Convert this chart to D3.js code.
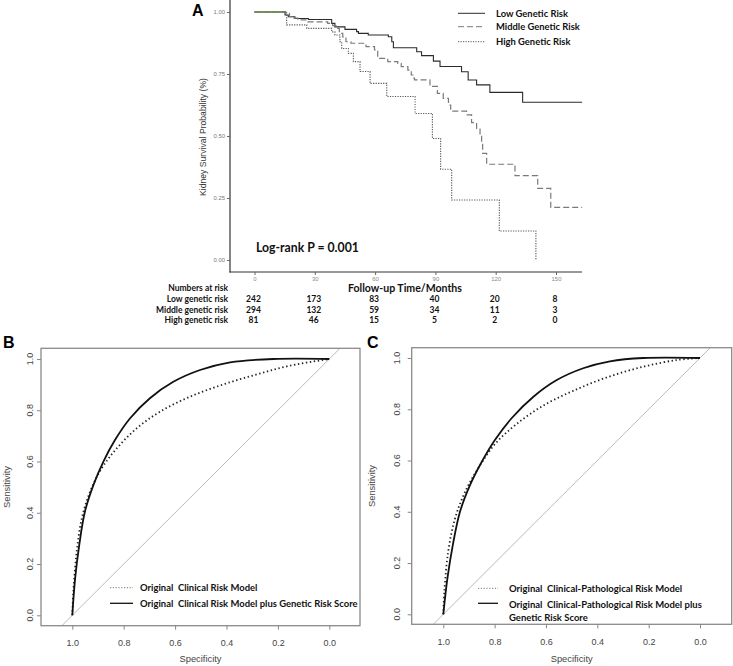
<!DOCTYPE html>
<html><head><meta charset="utf-8">
<script src="https://cdn.jsdelivr.net/npm/d3@7"></script>
<style>body{margin:0;background:#fff}svg{display:block}</style>
</head><body>
<script>
// ---------- Panel A data (Kaplan-Meier) ----------
const lowRisk = [[0,1],[15.2,0.988],[16.8,0.981],[20.1,0.974],[26.8,0.97],[38.4,0.954],[40,0.94],[45,0.93],[50.8,0.921],[51.7,0.914],[56.6,0.907],[66.6,0.9],[68.3,0.88],[69.1,0.856],[80.7,0.84],[83.1,0.824],[89,0.802],[92.3,0.78],[103,0.759],[106.3,0.726],[110.5,0.706],[117.1,0.676],[133.4,0.636],[163,0.636]];
const middleRisk = [[0,1],[15.6,0.995],[17.4,0.981],[19,0.975],[21.5,0.968],[26.5,0.96],[36.4,0.954],[38.9,0.945],[40.5,0.934],[42.2,0.914],[43.9,0.9],[45.5,0.88],[48,0.874],[55.5,0.86],[59.7,0.847],[61.3,0.813],[66.3,0.8],[71.3,0.793],[73,0.78],[76.3,0.766],[78,0.746],[78.8,0.733],[79.6,0.726],[87.3,0.70],[91,0.672],[93.9,0.652],[96.5,0.625],[97.6,0.60],[105.5,0.585],[108,0.554],[110.5,0.531],[112.2,0.504],[113,0.47],[113.5,0.43],[115.5,0.386],[129.6,0.34],[140.9,0.289],[147.4,0.2125],[163,0.2125]];
const highRisk = [[0,1],[16,0.948],[26,0.934],[38.4,0.92],[40,0.907],[42.5,0.88],[43.4,0.853],[46.7,0.833],[49.2,0.8],[52.5,0.76],[57.5,0.712],[65.8,0.659],[79.9,0.591],[88.5,0.49],[92.6,0.366],[98.1,0.242],[121.8,0.117],[140,0]];
const kmSeriesNames = ["Low Genetic Risk","Middle Genetic Risk","High Genetic Risk"];
const kmXTicks = [0,30,60,90,120,150];
const kmYTicks = [0,0.25,0.5,0.75,1];
const riskRowLabels = ["Low genetic risk","Middle genetic risk","High genetic risk"];
const lowAtRisk = [242,173,83,40,20,8];
const middleAtRisk = [294,132,59,34,11,3];
const highAtRisk = [81,46,15,5,2,0];

// ---------- Panel B data (ROC: [specificity, sensitivity]) ----------
const rocBClinical = [[1,0],[0.996,0.092],[0.983,0.248],[0.963,0.378],[0.931,0.482],[0.886,0.573],[0.827,0.651],[0.749,0.73],[0.659,0.794],[0.542,0.853],[0.412,0.901],[0.282,0.94],[0.153,0.974],[0,1]];
const rocBGenetic = [[1,0],[0.989,0.144],[0.973,0.274],[0.951,0.404],[0.918,0.508],[0.879,0.6],[0.834,0.684],[0.775,0.769],[0.698,0.847],[0.607,0.911],[0.503,0.957],[0.386,0.987],[0.218,1],[0,1]];
const legendB = ["Original  Clinical Risk Model","Original  Clinical Risk Model plus Genetic Risk Score"];

// ---------- Panel C data ----------
const rocCClinPath = [[1,0],[0.996,0.088],[0.981,0.244],[0.954,0.375],[0.915,0.478],[0.864,0.57],[0.799,0.664],[0.715,0.742],[0.611,0.814],[0.494,0.872],[0.364,0.924],[0.221,0.966],[0.091,0.992],[0,1]];
const rocCGenetic = [[1,0],[0.984,0.14],[0.963,0.27],[0.935,0.4],[0.896,0.504],[0.85,0.595],[0.799,0.68],[0.734,0.765],[0.649,0.849],[0.558,0.914],[0.455,0.96],[0.351,0.987],[0.221,1],[0,1]];
const legendC = ["Original  Clinical-Pathological Risk Model","Original  Clinical-Pathological Risk Model plus","Genetic Risk Score"];
const rocTicks = [0,0.2,0.4,0.6,0.8,1.0];

const W = 733, H = 666;
const svg = d3.select("body").append("svg").attr("width", W).attr("height", H);
const boldFont = "Lato, 'Open Sans', sans-serif";
const plainFont = "'Liberation Sans', Arial, sans-serif";

// font size that makes a sample string reach a target width
function fitSize(text, family, weight, target){
  const t = svg.append("text").attr("font-family",family).attr("font-weight",weight)
    .attr("font-size",10).attr("xml:space","preserve").text(text);
  const w = t.node().getComputedTextLength();
  t.remove();
  return w > 0 ? 10*target/w : 10;
}
const fsLegA = fitSize("Middle Genetic Risk", boldFont, "bold", 84);
const fsLog = fitSize("Log-rank P = 0.001", boldFont, "bold", 103);
const fsFollow = fitSize("Follow-up Time/Months", boldFont, "bold", 114);
const fsTable = fitSize("Middle genetic risk", boldFont, "bold", 72);
const fsYTitleA = fitSize("Kidney Survival Probability (%)", plainFont, "normal", 118);
const fsKmTick = fitSize("1.00", plainFont, "normal", 11.5);
const fsLegB = fitSize(legendB[1], boldFont, "bold", 218);
const fsLegC = fitSize(legendC[1], boldFont, "bold", 193);
const fsRocTick = fitSize("1.0", plainFont, "normal", 12.5);
const fsRocLab = fitSize("Specificity", plainFont, "normal", 42);

// ================= Panel A =================
const xA = d3.scaleLinear().domain([0,150]).range([254.5,556]);
const yA = d3.scaleLinear().domain([0,1]).range([260,12]);
const gA = svg.append("g");

gA.append("text").attr("x",192).attr("y",15.5).text("A")
  .attr("font-family",plainFont).attr("font-weight","bold").attr("font-size",16);

gA.append("line").attr("x1",230).attr("x2",230).attr("y1",0).attr("y2",272.5).attr("stroke","#333").attr("stroke-width",1.2);
gA.append("line").attr("x1",229.4).attr("x2",582).attr("y1",272).attr("y2",272).attr("stroke","#333").attr("stroke-width",1.2);
const yAg = gA.append("g").attr("transform","translate(230,0)")
  .call(d3.axisLeft(yA).tickValues(kmYTicks).tickFormat(d3.format(".2f")).tickSize(3).tickPadding(2));
yAg.select(".domain").remove();
yAg.selectAll("text").attr("font-family",plainFont).attr("font-size",fsKmTick).attr("fill","#777");
yAg.selectAll("line").attr("stroke","#666");
const xAg = gA.append("g").attr("transform","translate(0,272)")
  .call(d3.axisBottom(yA.copy().domain([0,150]).range([254.5,556])).tickValues(kmXTicks).tickSize(3).tickPadding(1.5));
xAg.select(".domain").remove();
xAg.selectAll("text").attr("font-family",plainFont).attr("font-size",fsKmTick).attr("fill","#888");
xAg.selectAll("line").attr("stroke","#666");

gA.append("text").attr("transform","translate(206,137) rotate(-90)").attr("text-anchor","middle")
  .attr("font-family",plainFont).attr("font-size",fsYTitleA).attr("fill","#333").text("Kidney Survival Probability (%)");

const kmStyles = [
  {data: lowRisk, stroke:"#2b2b2b", dash:null, w:1.1},
  {data: middleRisk, stroke:"#7a7a7a", dash:"6,3", w:1.2},
  {data: highRisk, stroke:"#555", dash:"1.2,1.3", w:1.1}
];
const stepLine = d3.line().x(d=>xA(d[0])).y(d=>yA(d[1])).curve(d3.curveStepAfter);
kmStyles.forEach(s=>{
  gA.append("path").attr("d",stepLine(s.data)).attr("fill","none").attr("stroke",s.stroke)
    .attr("stroke-width",s.w).attr("stroke-dasharray",s.dash);
});
gA.append("line").attr("x1",xA(0)).attr("x2",xA(14)).attr("y1",yA(1)).attr("y2",yA(1)).attr("stroke","#6f9a4f").attr("stroke-width",1.2);

const legYs = [13.3,26.7,41.7];
kmStyles.forEach((s,i)=>{
  gA.append("line").attr("x1",458).attr("x2",485).attr("y1",legYs[i]).attr("y2",legYs[i])
    .attr("stroke",s.stroke).attr("stroke-width",1).attr("stroke-dasharray",s.dash);
  gA.append("text").attr("x",496).attr("y",legYs[i]+3.5).text(kmSeriesNames[i])
    .attr("font-family",boldFont).attr("font-weight","bold").attr("font-size",fsLegA).attr("fill","#111");
});

gA.append("text").attr("x",256).attr("y",251.5).text("Log-rank P = 0.001")
  .attr("font-family",boldFont).attr("font-weight","bold").attr("font-size",fsLog).attr("fill","#111");

gA.append("text").attr("x",405).attr("y",292).attr("text-anchor","middle").text("Follow-up Time/Months")
  .attr("font-family",boldFont).attr("font-weight","bold").attr("font-size",fsFollow).attr("fill","#111");

gA.append("text").attr("x",228).attr("y",290.5).attr("text-anchor","end").text("Numbers at risk")
  .attr("font-family",boldFont).attr("font-weight","bold").attr("font-size",fsTable).attr("fill","#111");
const riskRows = [lowAtRisk, middleAtRisk, highAtRisk];
const rowYs = [301.5,312.5,323];
riskRows.forEach((row,i)=>{
  gA.append("text").attr("x",228).attr("y",rowYs[i]).attr("text-anchor","end").text(riskRowLabels[i])
    .attr("font-family",boldFont).attr("font-weight","bold").attr("font-size",fsTable).attr("fill","#111");
  row.forEach((v,j)=>{
    gA.append("text").attr("x",xA(kmXTicks[j])-1).attr("y",rowYs[i]).attr("text-anchor","middle").text(v)
      .attr("font-family",boldFont).attr("font-weight","bold").attr("font-size",fsTable).attr("fill","#111");
  });
});

// ================= ROC panels =================
function rocPanel(cfg){
  const g = svg.append("g");
  const x = d3.scaleLinear().domain([1,0]).range(cfg.xr);
  const y = d3.scaleLinear().domain([0,1]).range(cfg.yr);
  const [bx0,bx1,by0,by1] = cfg.box;
  const clipId = "clip"+cfg.label;
  g.append("clipPath").attr("id",clipId).append("rect").attr("x",bx0).attr("y",by0).attr("width",bx1-bx0).attr("height",by1-by0);
  g.append("line").attr("clip-path",`url(#${clipId})`)
    .attr("x1",x(1.2)).attr("y1",y(-0.2)).attr("x2",x(-0.2)).attr("y2",y(1.2))
    .attr("stroke","#bbb").attr("stroke-width",1);
  g.append("rect").attr("x",bx0).attr("y",by0).attr("width",bx1-bx0).attr("height",by1-by0)
    .attr("fill","none").attr("stroke","#8a8a8a").attr("stroke-width",1.3);
  const xa = g.append("g").attr("transform",`translate(0,${by1})`)
    .call(d3.axisBottom(x).tickValues(rocTicks).tickFormat(d3.format(".1f")).tickSize(4).tickPadding(10));
  xa.select(".domain").remove();
  xa.selectAll("line").attr("stroke","#888");
  xa.selectAll("text").attr("font-family",plainFont).attr("font-size",fsRocTick).attr("fill","#444");
  const ya = g.append("g").attr("transform",`translate(${bx0},0)`)
    .call(d3.axisLeft(y).tickValues(rocTicks).tickFormat(()=>"").tickSize(4));
  ya.select(".domain").remove();
  ya.selectAll("line").attr("stroke","#888");
  g.selectAll(".ytl").data(rocTicks).enter().append("text").attr("class","ytl")
    .attr("transform",d=>`translate(${cfg.ytickX},${y(d)}) rotate(-90)`)
    .attr("text-anchor","middle").text(d3.format(".1f"))
    .attr("font-family",plainFont).attr("font-size",fsRocTick).attr("fill","#444");
  g.append("text").attr("x",(bx0+bx1)/2).attr("y",662).attr("text-anchor","middle").text("Specificity")
    .attr("font-family",plainFont).attr("font-size",fsRocLab).attr("fill","#444");
  g.append("text").attr("transform",`translate(${cfg.ylabX},${(by0+by1)/2}) rotate(-90)`).attr("text-anchor","middle").text("Sensitivity")
    .attr("font-family",plainFont).attr("font-size",fsRocLab).attr("fill","#444");
  g.append("text").attr("x",cfg.labelX).attr("y",by0).text(cfg.label)
    .attr("font-family",plainFont).attr("font-weight","bold").attr("font-size",16).attr("fill","#000");

  const line = d3.line().x(d=>x(d[0])).y(d=>y(d[1])).curve(d3.curveCatmullRom.alpha(0.5));
  g.append("path").attr("d",line(cfg.dotted)).attr("fill","none").attr("stroke","#222")
    .attr("stroke-width",1.8).attr("stroke-dasharray","1.4,2.6");
  g.append("path").attr("d",line(cfg.solid)).attr("fill","none").attr("stroke","#111").attr("stroke-width",1.8);

  const L = cfg.legend;
  g.append("line").attr("x1",L.x1).attr("x2",L.x2).attr("y1",L.y1).attr("y2",L.y1)
    .attr("stroke","#777").attr("stroke-width",1).attr("stroke-dasharray","1.2,1.6");
  g.append("line").attr("x1",L.x1).attr("x2",L.x2).attr("y1",L.y2).attr("y2",L.y2)
    .attr("stroke","#111").attr("stroke-width",1.3);
  cfg.legendText.forEach((t,i)=>{
    g.append("text").attr("x",L.tx).attr("y",L.ty[i]).text(t).attr("xml:space","preserve")
      .attr("font-family",boldFont).attr("font-weight","bold").attr("font-size",L.fs).attr("fill","#111");
  });
}

rocPanel({label:"B", xr:[72.3,329.3], yr:[615.3,359], box:[41,360,348.3,625.7], ytickX:32.5, ylabX:10, labelX:3,
  dotted: rocBClinical, solid: rocBGenetic, legendText: legendB,
  legend:{x1:110,x2:133,y1:587.7,y2:603.3,tx:140,ty:[591,606.7],fs:fsLegB}});
rocPanel({label:"C", xr:[443.3,700], yr:[614.3,358], box:[411.7,731.7,347.7,624.3], ytickX:400, ylabX:375, labelX:367,
  dotted: rocCClinPath, solid: rocCGenetic, legendText: legendC,
  legend:{x1:478,x2:498,y1:588.3,y2:603.3,tx:509,ty:[591.7,607.5,620.5],fs:fsLegC}});
</script>
</body></html>
